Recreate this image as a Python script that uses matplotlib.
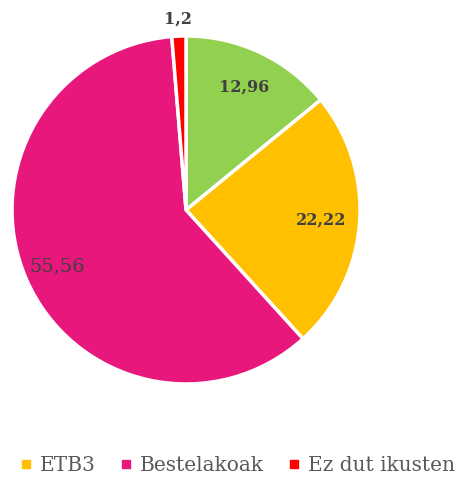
import numpy as np
import matplotlib
matplotlib.use('Agg')
import matplotlib.pyplot as plt
from matplotlib.lines import Line2D

# ── Data ──────────────────────────────────────────────────────────────────────
categories = ['', 'ETB3', 'Bestelakoak', 'Ez dut ikusten']
values = [12.96, 22.22, 55.56, 1.2]
value_labels = ['12,96', '22,22', '55,56', '1,2']
colors = ['#92D050', '#FFC000', '#E8177C', '#FF0000']

plt.rcParams['font.family'] = ['DejaVu Serif']

fig = plt.figure(figsize=(4.57, 4.83), dpi=100)
ax = fig.add_axes([0.0263, 0.2050, 0.7615, 0.7205])

wedges, _ = ax.pie(values, colors=colors, startangle=90, counterclock=False,
                   radius=1.0,
                   wedgeprops=dict(edgecolor='white', linewidth=2.5))
ax.set_xlim(-1, 1)
ax.set_ylim(-1, 1)
ax.set_aspect('auto')
ax.axis('off')

# data labels inside slices, small slice outside
for w, lab, v in zip(wedges, value_labels, values):
    ang = np.deg2rad((w.theta1 + w.theta2) / 2.0)
    big = v > 50
    r = 1.10 if v < 3 else (0.81 if big else 0.78)
    ax.text(r * np.cos(ang), r * np.sin(ang), lab,
            ha='center', va='center', color='#404040',
            fontsize=14 if big else 11.5,
            fontweight='normal' if big else 'bold')

# legend (the first slice has no entry)
handles = [Line2D([], [], marker='s', linestyle='', markersize=6,
                  markerfacecolor=c, markeredgecolor=c)
           for c, n in zip(colors, categories) if n]
names = [n for n in categories if n]
fig.legend(handles, names, loc='center', bbox_to_anchor=(0.52, 0.037),
           ncol=3, frameon=False, fontsize=14.5, labelcolor='#595959',
           handletextpad=0.4, columnspacing=1.2, handlelength=0.6)

fig.savefig('out.png', dpi=100)
